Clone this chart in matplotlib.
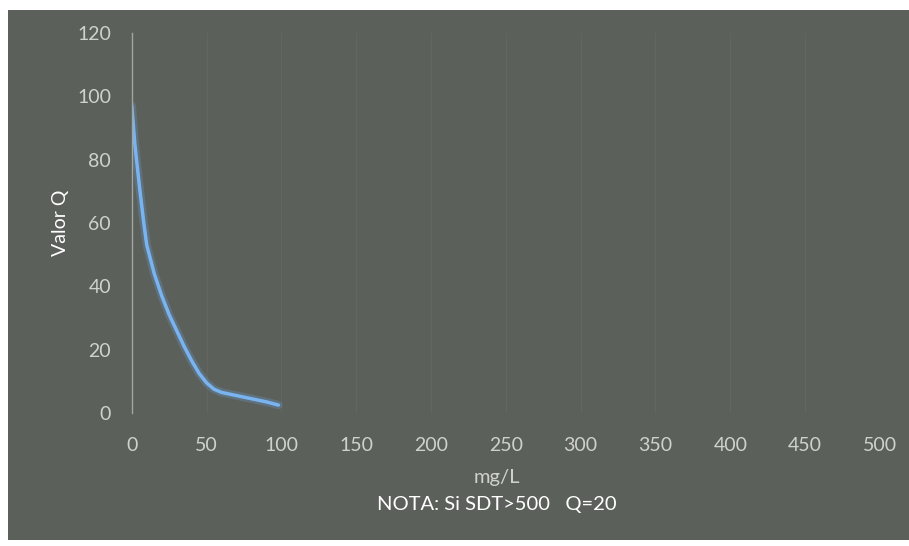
import matplotlib
matplotlib.use("Agg")
import matplotlib.pyplot as plt
from matplotlib.patches import Rectangle

# Valores (SDT, mg/L -> valor Q)
sdt = [0, 2, 5, 8, 10, 15, 20, 25, 30, 35, 40, 45, 50, 55, 60, 70, 80, 90, 98]
valor_q = [97, 85, 72, 60, 53, 44, 37, 31, 26, 21, 16.5, 12.5, 9.5, 7.5, 6.5, 5.5, 4.5, 3.5, 2.5]

x_ticks = [0, 50, 100, 150, 200, 250, 300, 350, 400, 450, 500]
y_ticks = [0, 20, 40, 60, 80, 100, 120]

fondo = "#5c605b"
texto = "#cfd1cd"

plt.rcParams["font.family"] = ["Lato", "DejaVu Sans"]

fig = plt.figure(figsize=(9.09, 5.46), dpi=100)
fig.patch.set_facecolor("white")
# marco gris del gráfico escaneado
fig.add_artist(Rectangle((8 / 909, 6 / 546), 1 - 8 / 909, 1 - 16 / 546,
                         transform=fig.transFigure, facecolor=fondo,
                         edgecolor="none", zorder=0))

ax = fig.add_axes([0.145, 0.2436, 0.823, 0.696])
ax.set_facecolor("none")

ax.plot(sdt, valor_q, color="#6aa6e6", linewidth=6, alpha=0.25,
        solid_capstyle="round")
ax.plot(sdt, valor_q, color="#7ab4f0", linewidth=2.5, solid_capstyle="round")

ax.set_xlim(0, 500)
ax.set_ylim(0, 120)
ax.set_xticks(x_ticks)
ax.set_yticks(y_ticks)
ax.tick_params(colors=texto, labelsize=14, length=0)
ax.tick_params(axis="x", pad=17)
ax.tick_params(axis="y", pad=15)

for s in ["top", "right", "bottom"]:
    ax.spines[s].set_visible(False)
ax.spines["left"].set_color("#a2a5a0")
ax.spines["left"].set_linewidth(1)

ax.grid(axis="x", color="#62665f", linewidth=0.8)

ax.set_ylabel("Valor Q", color="white", fontsize=14, labelpad=6)
fig.text(0.547, 0.125, "mg/L", color=texto, fontsize=14.5, ha="center",
         va="center")
fig.text(0.547, 0.076, "NOTA: Si SDT>500   Q=20", color="white", fontsize=14.5,
         ha="center", va="center")

fig.savefig("out.png", dpi=100, facecolor=fig.get_facecolor())
